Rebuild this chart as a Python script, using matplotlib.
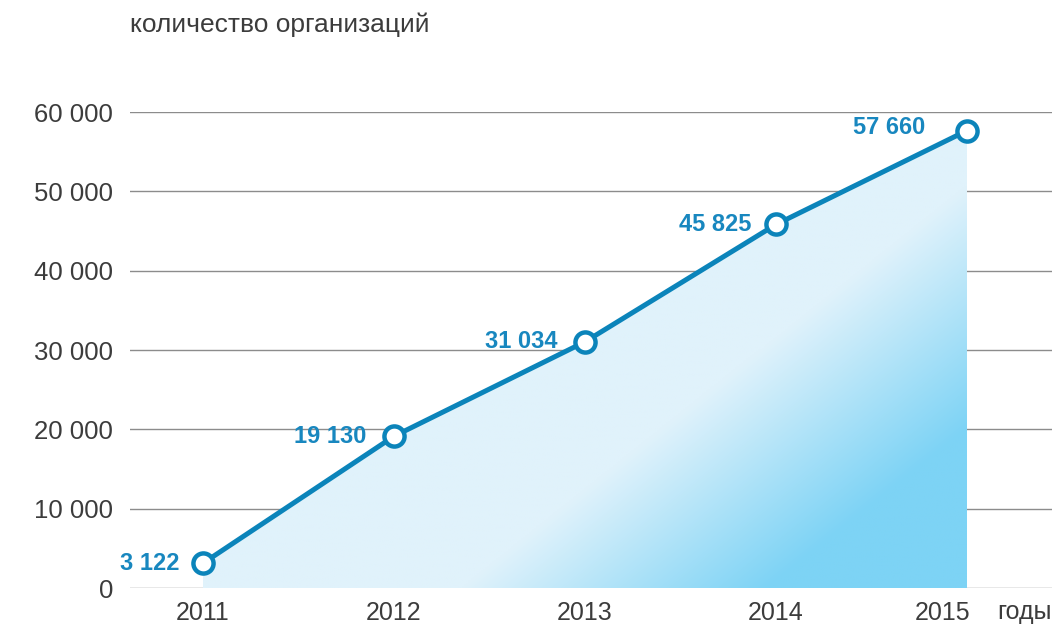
import numpy as np
import matplotlib
matplotlib.use("Agg")
import matplotlib.pyplot as plt
from matplotlib.colors import to_rgb
from matplotlib.transforms import ScaledTranslation

# ── data ──────────────────────────────────────────────────────────────────────
years  = [2011, 2012, 2013, 2014, 2015]
counts = [3122, 19130, 31034, 45825, 57660]
labels = ["3 122", "19 130", "31 034", "45 825", "57 660"]
yticks = [0, 10000, 20000, 30000, 40000, 50000, 60000]
ytick_labels = ["0", "10 000", "20 000", "30 000", "40 000", "50 000", "60 000"]
title  = "количество организаций"
x_unit = "годы"

LINE_C  = "#0b84ba"
LABEL_C = "#1887bf"
TEXT_C  = "#3c3c3c"
GRID_C  = "#8c8c8c"
LIGHT   = np.array(to_rgb("#e0f2fb"))
DEEP    = np.array(to_rgb("#7dd3f5"))

plt.rcParams["font.family"] = ["Liberation Sans", "DejaVu Sans"]

W, H = 1056, 626
fig = plt.figure(figsize=(W / 100, H / 100), dpi=100)
fig.patch.set_facecolor("white")
ax = fig.add_axes([130 / W, 38 / H, 922 / W, 476 / H])
ax.set_xlim(2011 - 73 / 191, 2015 + 85 / 191)
ax.set_ylim(0, 60000)

# ── grid ──────────────────────────────────────────────────────────────────────
ax.set_yticks(yticks)
ax.set_yticklabels(ytick_labels)
ax.set_xticks(years)
ax.set_xticklabels([str(y) for y in years])
ax.yaxis.grid(True, color=GRID_C, linewidth=1.0, zorder=0)
ax.set_axisbelow(True)
for s in ax.spines.values():
    s.set_visible(False)
ax.tick_params(axis="y", length=0, pad=12, labelsize=18.5, labelcolor=TEXT_C)
ax.tick_params(axis="x", length=0, pad=9, labelsize=18, labelcolor=TEXT_C)

# last year label sits a little to the left, as in the original layout
last = ax.get_xticklabels()[-1]
last.set_transform(last.get_transform()
                   + ScaledTranslation(-24 / 100, 0, fig.dpi_scale_trans))

# ── gradient area ─────────────────────────────────────────────────────────────
poly = ax.fill_between(years, counts, 0, color="none", lw=0)
clip = poly.get_paths()[0]

nx, ny = 400, 300
gx = np.linspace(years[0], years[-1], nx)
gy = np.linspace(0, max(counts), ny)
XX, YY = np.meshgrid(gx, gy)
pts = ax.transData.transform(np.column_stack([XX.ravel(), YY.ravel()]))
px = pts[:, 0]
py = H - pts[:, 1]
t = 0.62 * px + 0.78 * py
f = np.clip((t - 745) / (935 - 745), 0, 1).reshape(ny, nx)
img = LIGHT[None, None, :] * (1 - f[..., None]) + DEEP[None, None, :] * f[..., None]
im = ax.imshow(img, extent=[years[0], years[-1], 0, max(counts)], origin="lower",
               aspect="auto", zorder=1, interpolation="bilinear")
im.set_clip_path(clip, transform=ax.transData)

# ── line and markers ─────────────────────────────────────────────────────────
ax.plot(years, counts, color=LINE_C, lw=3.6, zorder=3, solid_capstyle="round")
ax.plot(years, counts, ls="none", marker="o", ms=14.5, mfc="white",
        mec=LINE_C, mew=3.2, zorder=4)

label_offsets = [(-17, 0), (-20, 0), (-20, 0), (-18, 0), (-30, 2)]
for x, y, lab, off in zip(years, counts, labels, label_offsets):
    ax.annotate(lab, (x, y), xytext=off, textcoords="offset points",
                ha="right", va="center", fontsize=17, fontweight="bold",
                color=LABEL_C, zorder=5)

# ── texts ─────────────────────────────────────────────────────────────────────
fig.text(130 / W, 1 - 25 / H, title, ha="left", va="center",
         fontsize=19, color=TEXT_C)
fig.text(997 / W, (H - 612) / H, x_unit, ha="left", va="center",
         fontsize=18, color=TEXT_C)

fig.savefig("out.png", dpi=100, facecolor="white")
